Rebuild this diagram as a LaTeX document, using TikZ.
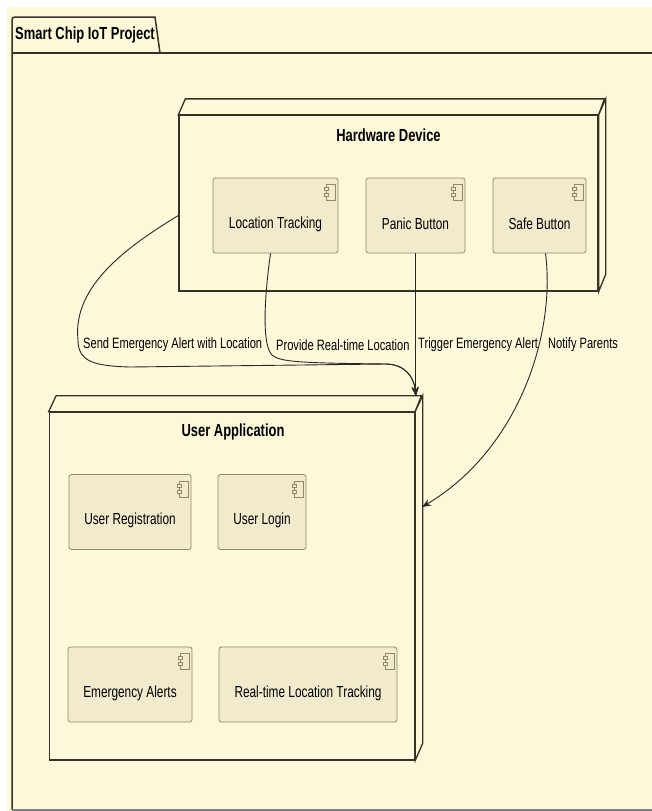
\documentclass[tikz,border=0pt]{standalone}
\usepackage{fontspec}
\setmainfont{Liberation Sans}[FakeStretch=0.74]
\usetikzlibrary{arrows.meta,calc}
\definecolor{pagebg}{RGB}{254,248,218}
\definecolor{compfill}{RGB}{241,234,205}
\definecolor{compline}{RGB}{145,135,105}
\definecolor{boxline}{RGB}{55,50,38}
\definecolor{wireline}{RGB}{40,40,36}
\tikzset{
  nodebox/.style={draw=boxline, line width=1.3pt, fill=pagebg, inner sep=0pt},
  compbox/.style={draw=compline, line width=0.8pt, fill=compfill, rounded corners=2.5pt, inner sep=0pt},
  comptext/.style={font=\fontsize{16}{18}\selectfont, inner sep=0pt},
  titletext/.style={font=\bfseries\fontsize{17.5}{20}\selectfont, inner sep=0pt},
  wirelabel/.style={font=\fontsize{15}{17}\selectfont, inner sep=0pt, anchor=west},
  wire/.style={draw=wireline, line width=0.9pt, -{Stealth[length=9pt,width=7pt,inset=3pt]}},
}
\begin{document}
\begin{tikzpicture}[x=1pt, y=-1pt]
  \useasboundingbox (0,0) rectangle (652,811);
  % page
  \fill[white] (0,0) rectangle (652,811);
  \fill[pagebg] (7,7) rectangle (652,811);
  % package frame with tab
  \draw[boxline, line width=1.5pt] (12,810) -- (12,20) .. controls (12,18) and (13,17) .. (15,17) -- (155,17) -- (160,53);
  \draw[boxline, line width=1.5pt] (12,53) -- (652,53);
  \draw[gray, line width=1.5pt] (12,810) -- (652,810);
  \node[titletext, anchor=west] (pkg) at (15,35) {Smart Chip IoT Project};

  % hardware device node
  \node[nodebox, minimum width=419pt, minimum height=175.5pt] (hw) at (388.5,203.25) {};
  \draw[nodebox] (hw.north west) -- ++(7,-16) -- ++(419,0) -- (hw.north east) -- cycle;
  \draw[nodebox] (hw.north east) -- ++(7,-16) -- ++(0,175.5) -- (hw.south east) -- cycle;
  \node[titletext] (hwtitle) at (388.5,135) {Hardware Device};

  % user application node
  \node[nodebox, minimum width=365.2pt, minimum height=347.7pt] (ua) at (231.9,586.15) {};
  \draw[nodebox] (ua.north west) -- ++(7.5,-16) -- ++(365.2,0) -- (ua.north east) -- cycle;
  \draw[nodebox] (ua.north east) -- ++(7.5,-16) -- ++(0,347.7) -- (ua.south east) -- cycle;
  \node[titletext] (uatitle) at (233,432) {User Application};

  % components
  \foreach \name/\txt/\cx/\cy/\w in {lt/Location Tracking/275.5/215.5/125,
      pb/Panic Button/415.5/215.5/99, sb/Safe Button/539.5/215.5/93,
      ur/User Registration/130/512/122, ul/User Login/262/512/88,
      ea/Emergency Alerts/130/684.5/124, rt/Real-time Location Tracking/308/684.5/178}
  {
    \node[compbox, minimum width=\w pt, minimum height=75pt] (\name) at (\cx,\cy) {};
    \node[comptext] (\name-txt) at ($(\name.center)+(0,8.5)$) {\txt};
    % component icon
    \draw[compline, line width=0.7pt] ($(\name.north east)+(-12,7)$) rectangle ++(9,16);
    \draw[compline, line width=0.6pt, fill=compfill] ($(\name.north east)+(-14.5,10)$) rectangle ++(4.5,3);
    \draw[compline, line width=0.6pt, fill=compfill] ($(\name.north east)+(-14.5,16)$) rectangle ++(4.5,3);
  }

  % connectors
  \coordinate (uain) at (416,396);
  \coordinate (uaside) at (422,507);
  \draw[wire] (hw.west |- lt.center) .. controls (130,245) and (72,285) .. (78,340)
    .. controls (78,362) and (95,366) .. (130,367) -- (385,364)
    .. controls (406,364) and (414,378) .. (uain);
  \draw[wire] ([xshift=-5pt]lt.south) .. controls (264,300) and (262,345) .. (272,355)
    .. controls (280,362) and (300,363) .. (385,364)
    .. controls (406,364) and (414,378) .. (uain);
  \draw[wire] (pb.south) -- (pb.south |- uain);
  \draw[wire] ([xshift=6pt]sb.south) .. controls (556,335) and (518,450) .. (uaside);

  % connector labels
  \node[wirelabel] (send) at (83,345) {Send Emergency Alert with Location};
  \node[wirelabel] (provide) at (276,345) {Provide Real-time Location};
  \node[wirelabel] (trigger) at (418,345) {Trigger Emergency Alert};
  \node[wirelabel] (notify) at (548,345) {Notify Parents};
\end{tikzpicture}
\end{document}
